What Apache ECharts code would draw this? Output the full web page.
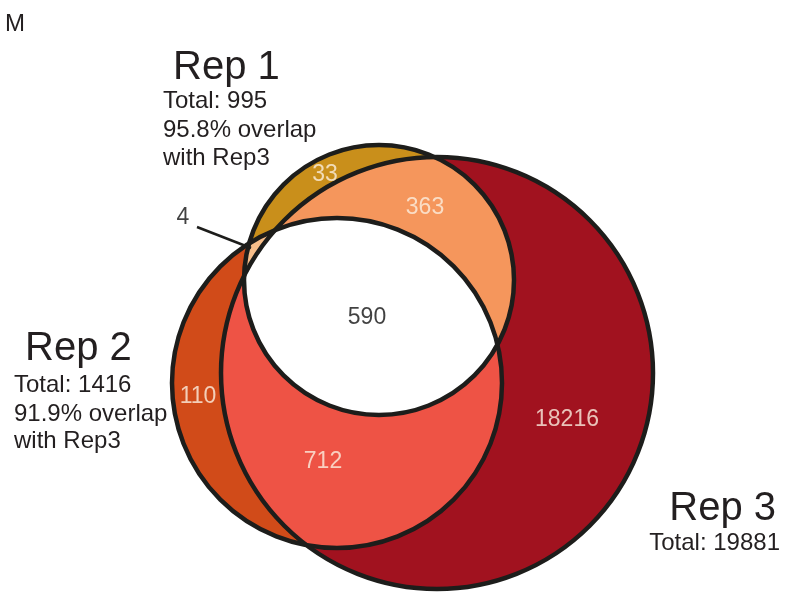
<!DOCTYPE html>
<html><head><meta charset="utf-8">
<script src="https://cdn.jsdelivr.net/npm/echarts@6/dist/echarts.min.js"></script>
<style>html,body{margin:0;padding:0;background:#fff}#c{width:785px;height:592px}</style>
</head><body><div id="c"></div>
<script>
// ---- data ----
const panelLetter = 'M';
const setNames = ['Rep 1', 'Rep 2', 'Rep 3'];
const setTotals = [995, 1416, 19881];
const setOverlapPct = ['95.8%', '91.9%', null];
const overlapWith = 'Rep3';
// regions: membership (indices into setNames) and counts
const regionSets = [[0], [0, 1], [1], [0, 1, 2], [0, 2], [1, 2], [2]];
const regionCounts = [33, 4, 110, 590, 363, 712, 18216];

// ---- layout (positions / sizes / styles) ----
const circles = [ // [cx, cy, r] in canvas units
  [379, 280, 135],
  [337, 383, 165],
  [437, 373, 216]
];
const regionFill = ['#C98F1B', '#F7BE8A', '#D14B19', '#FFFFFF', '#F5965C', '#EE5345', '#A1121F'];
const regionLabelPos = [[325, 175], [183, 218], [198, 397], [367, 318], [425, 208], [323, 462], [567, 420]];
const regionLabelColor = ['#FBEFE0', '#111', '#FBEFE0', '#111', '#FBEFE0', '#FBEFE0', '#FBEFE0'];
const pointer = [[197, 227], [251, 248]];
const paintOrder = [6, 2, 0, 5, 4, 1, 3]; // region indices, background to foreground
const FONT = '"Liberation Sans", Arial, Helvetica, sans-serif';

// ---- geometry helpers ----
function circlePoly(c, n) {
  const pts = [];
  for (let i = 0; i < n; i++) {
    const t = 2 * Math.PI * i / n;
    pts.push([c[0] + c[2] * Math.cos(t), c[1] + c[2] * Math.sin(t)]);
  }
  return pts;
}
function clip(subject, clipPoly) {
  let out = subject;
  for (let i = 0; i < clipPoly.length; i++) {
    const a = clipPoly[i], b = clipPoly[(i + 1) % clipPoly.length];
    const inside = p => (b[0] - a[0]) * (p[1] - a[1]) - (b[1] - a[1]) * (p[0] - a[0]) >= 0;
    const inter = (p, q) => {
      const x1 = p[0], y1 = p[1], x2 = q[0], y2 = q[1];
      const x3 = a[0], y3 = a[1], x4 = b[0], y4 = b[1];
      const d = (x1 - x2) * (y3 - y4) - (y1 - y2) * (x3 - x4);
      const t = ((x1 - x3) * (y3 - y4) - (y1 - y3) * (x3 - x4)) / d;
      return [x1 + t * (x2 - x1), y1 + t * (y2 - y1)];
    };
    const input = out; out = [];
    if (!input.length) break;
    for (let j = 0; j < input.length; j++) {
      const cur = input[j], prev = input[(j + input.length - 1) % input.length];
      if (inside(cur)) {
        if (!inside(prev)) out.push(inter(prev, cur));
        out.push(cur);
      } else if (inside(prev)) {
        out.push(inter(prev, cur));
      }
    }
  }
  return out;
}
const polys = circles.map(c => circlePoly(c, 360));
function regionPoly(sets) {
  let p = polys[sets[0]];
  for (let k = 1; k < sets.length; k++) p = clip(p, polys[sets[k]]);
  return p;
}

// ---- chart ----
const chart = echarts.init(document.getElementById('c'));
const txt = (x, y, text, size, align) => ({
  type: 'text', x: x, y: y, silent: true,
  style: { text: text, fontSize: size, fontFamily: FONT, fill: '#231f20', align: align || 'left', verticalAlign: 'middle' }
});
const graphics = [
  txt(5, 24, panelLetter, 24),
  txt(173, 68, setNames[0], 40),
  txt(163, 101, 'Total: ' + setTotals[0], 24),
  txt(163, 130, setOverlapPct[0] + ' overlap', 24),
  txt(163, 158, 'with ' + overlapWith, 24),
  txt(25, 349, setNames[1], 40),
  txt(14, 385, 'Total: ' + setTotals[1], 24),
  txt(14, 414, setOverlapPct[1] + ' overlap', 24),
  txt(14, 441, 'with ' + overlapWith, 24),
  txt(776, 509, setNames[2], 40, 'right'),
  txt(780, 543, 'Total: ' + setTotals[2], 24, 'right')
];

chart.setOption({
  animation: false,
  grid: { left: 0, right: 0, top: 0, bottom: 0 },
  xAxis: { type: 'value', min: 0, max: 785, show: false },
  yAxis: { type: 'value', min: 0, max: 592, inverse: true, show: false },
  graphic: graphics,
  series: [
    {
      type: 'custom', silent: true,
      data: paintOrder.map(i => [i]),
      renderItem: function (params, api) {
        const ri = api.value(0);
        const pts = regionPoly(regionSets[ri]).map(p => api.coord(p));
        return { type: 'polygon', shape: { points: pts }, style: { fill: regionFill[ri], stroke: null } };
      }
    },
    {
      type: 'custom', silent: true,
      data: circles.map((c, i) => [c[0], c[1], c[2]]),
      renderItem: function (params, api) {
        const p = api.coord([api.value(0), api.value(1)]);
        const r = api.size([api.value(2), 0])[0];
        return { type: 'circle', shape: { cx: p[0], cy: p[1], r: r }, style: { fill: 'none', stroke: '#1d1d1b', lineWidth: 4.5 } };
      }
    },
    {
      type: 'custom', silent: true,
      data: [[pointer[0][0], pointer[0][1], pointer[1][0], pointer[1][1]]],
      renderItem: function (params, api) {
        const a = api.coord([api.value(0), api.value(1)]);
        const b = api.coord([api.value(2), api.value(3)]);
        return { type: 'line', shape: { x1: a[0], y1: a[1], x2: b[0], y2: b[1] }, style: { stroke: '#1d1d1b', lineWidth: 2.5 } };
      }
    },
    {
      type: 'scatter', silent: true, symbolSize: 0,
      data: regionCounts.map((v, i) => ({
        value: [regionLabelPos[i][0], regionLabelPos[i][1], v],
        label: { color: regionLabelColor[i] }
      })),
      label: {
        show: true, position: 'inside', fontSize: 23, fontFamily: FONT,
        formatter: p => String(p.value[2])
      }
    }
  ]
});
</script></body></html>
